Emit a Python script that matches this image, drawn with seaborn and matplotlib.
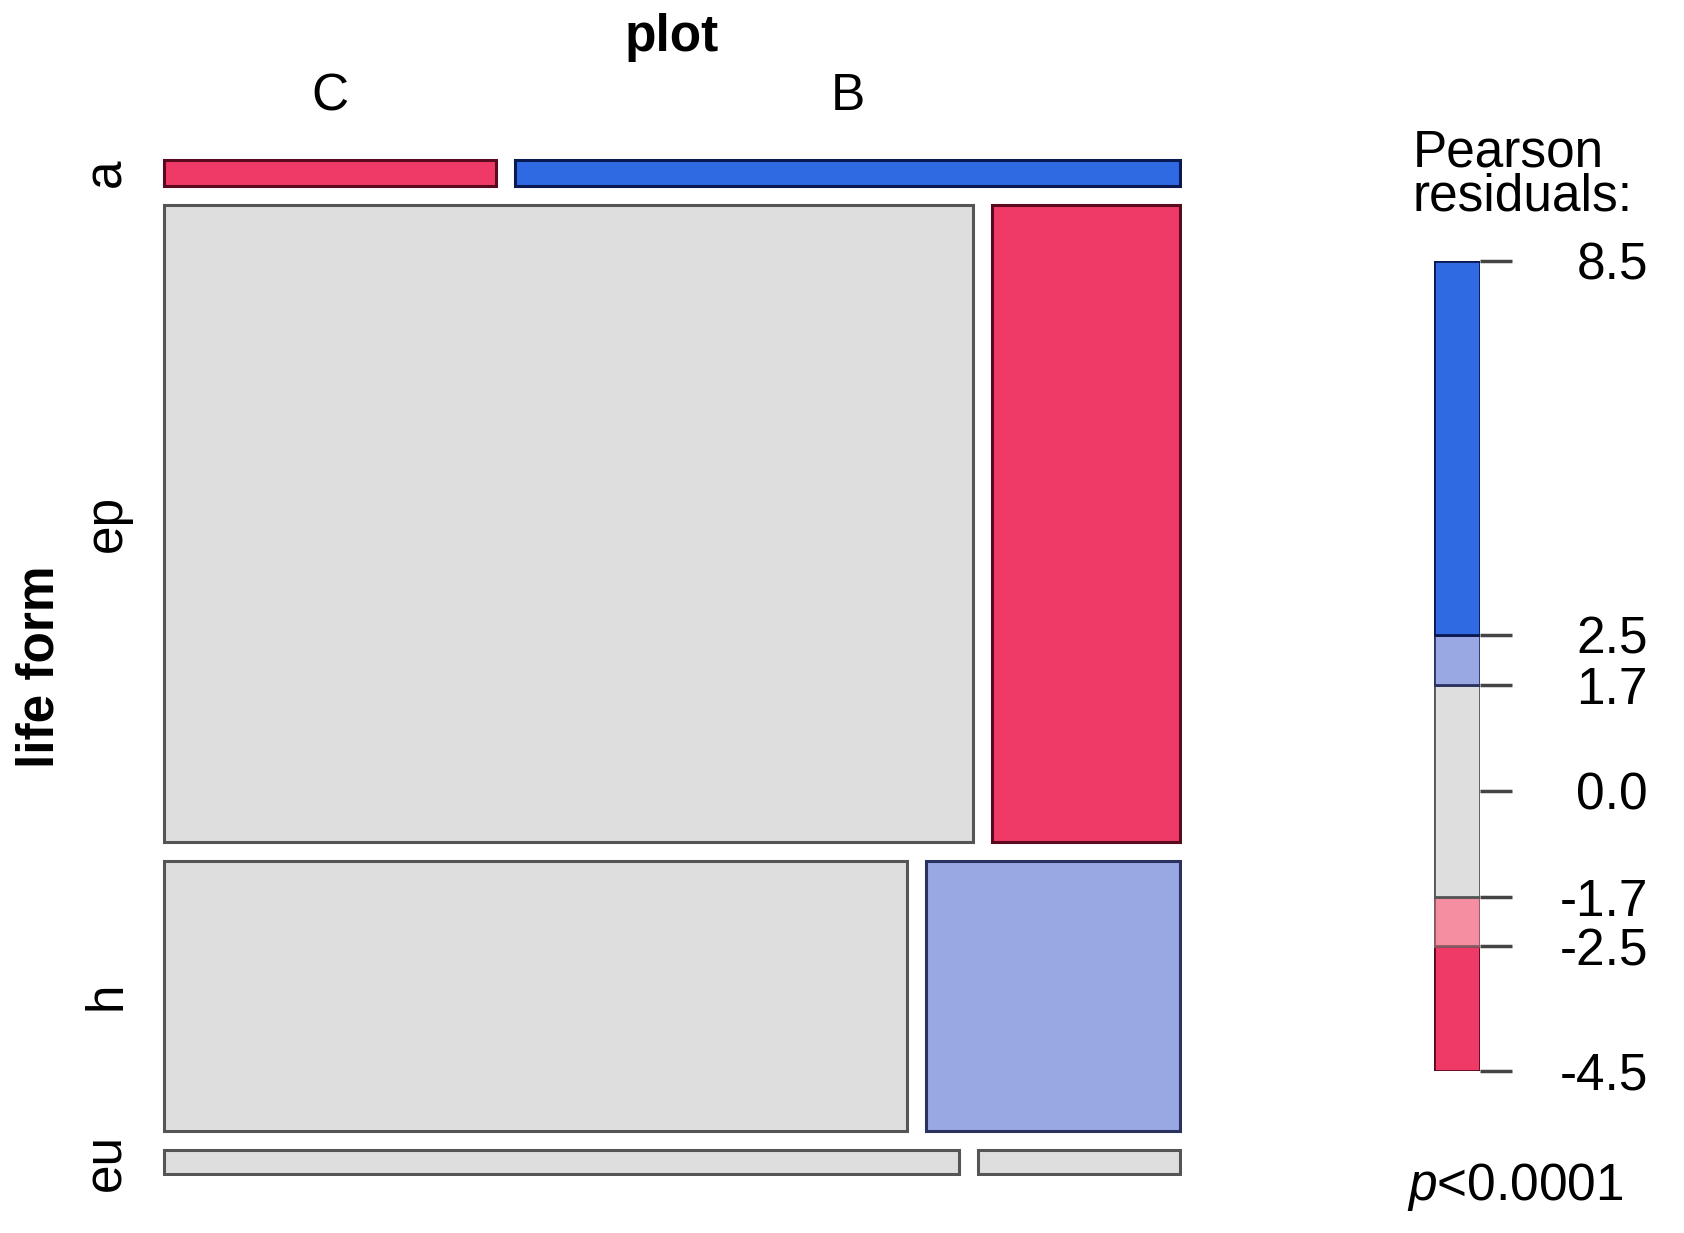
import numpy as np
import matplotlib
matplotlib.use("Agg")
import matplotlib.pyplot as plt
import matplotlib.transforms as mtransforms
import seaborn as sns

# contingency table: life form (rows) x plot (columns)
life_forms = ["a", "ep", "h", "eu"]
plots = ["C", "B"]
counts_C = [27, 1620, 632, 59]
counts_B = [54, 377, 216, 15]

# legend scale for Pearson residuals
breaks = [-4.5, -2.5, -1.7, 1.7, 2.5, 8.5]
tick_vals = [-4.5, -2.5, -1.7, 0.0, 1.7, 2.5, 8.5]
tick_labels = ["-4.5", "-2.5", "-1.7", "0.0", "1.7", "2.5", "8.5"]
fills = ["#EF3A68", "#F48EA0", "#DEDEDE", "#99A8E2", "#2F6AE3"]
edges = ["#5A0A1E", "#8A5A64", "#555555", "#2A3360", "#0A1A50"]
p_text = "p<0.0001"

sns.set_theme(style="white")
plt.rcParams["font.family"] = ["Liberation Sans", "DejaVu Sans"]
plt.rcParams["text.color"] = "black"
plt.rcParams["ytick.color"] = "black"
plt.rcParams["mathtext.fontset"] = "custom"
plt.rcParams["mathtext.it"] = "Liberation Sans:italic"

tab = np.array([counts_C, counts_B], dtype=float).T
N = tab.sum()
expected = np.outer(tab.sum(axis=1), tab.sum(axis=0)) / N
resid = (tab - expected) / np.sqrt(expected)


def bin_of(r):
    for k in range(len(breaks) - 1):
        if r <= breaks[k + 1]:
            return k
    return len(breaks) - 2


W, H = 1684, 1233
FS = 37
fig = plt.figure(figsize=(W / 100, H / 100), dpi=100)
fig.patch.set_facecolor("white")

# mosaic
left_px, right_px, top_px, bot_px = 162, 1182, 158, 1176
gap = 19.3
ax = fig.add_axes([left_px / W, 1 - bot_px / H, (right_px - left_px) / W, (bot_px - top_px) / H])
gx = gap / (right_px - left_px - gap)
gy = gap / (bot_px - top_px - 3 * gap)

row_h = tab.sum(axis=1) / N
row_y = np.concatenate([[0], np.cumsum(row_h[:-1] + gy)])
for i in range(len(life_forms)):
    props = tab[i] / tab[i].sum()
    x = 0.0
    for j in range(len(plots)):
        k = bin_of(resid[i, j])
        ax.bar(x, row_h[i], width=props[j], bottom=row_y[i], align="edge",
               color=fills[k], edgecolor=edges[k], linewidth=2.2)
        x += props[j] + gx
ax.set_xlim(-0.002, 1 + gx + 0.002)
ax.set_ylim(row_y[-1] + row_h[-1] + 0.002, -0.002)
ax.set_axis_off()

# column labels over first row
top_props = tab[0] / tab[0].sum()
trans_x = mtransforms.blended_transform_factory(ax.transData, fig.transFigure)
cx = [top_props[0] / 2, top_props[0] + gx + top_props[1] / 2]
for lab, xx in zip(plots, cx):
    ax.text(xx, 1 - 97 / H, lab, transform=trans_x, ha="center", va="center", fontsize=FS)
fig.text(((left_px + right_px) / 2) / W, 1 - 37 / H, "plot", ha="center", va="center",
         fontsize=FS, fontweight="bold")

# row labels
trans_y = mtransforms.blended_transform_factory(fig.transFigure, ax.transData)
for lab, yy, hh in zip(life_forms, row_y, row_h):
    ax.text(107 / W, yy + hh / 2, lab, transform=trans_y, ha="center", va="center",
            rotation=90, fontsize=FS)
fig.text(40 / W, 1 - 667 / H, "life form", ha="center", va="center", rotation=90,
         fontsize=FS, fontweight="bold")

# legend
lax = fig.add_axes([1434 / W, 1 - 1071 / H, 46 / W, (1071 - 261) / H])
for k in range(len(fills)):
    lax.bar(0, breaks[k + 1] - breaks[k], width=1, bottom=breaks[k], align="edge",
            color=fills[k], edgecolor=edges[k], linewidth=2)
lax.set_xlim(0, 1)
lax.set_ylim(breaks[0], breaks[-1])
for s in lax.spines.values():
    s.set_visible(False)
lax.set_xticks([])
lax.yaxis.tick_right()
lax.set_yticks(tick_vals)
lax.set_yticklabels(tick_labels, ha="right")
lax.tick_params(axis="y", right=True, left=False, length=23, width=2.5, color="#444444",
                direction="out", pad=98, labelsize=FS, labelcolor="black")

fig.text(1413 / W, 1 - 175 / H, "Pearson\nresiduals:", ha="left", va="center",
         fontsize=FS, linespacing=0.85)
fig.text(1407 / W, 1 - 1187 / H, r"$\it{p}$" + p_text[1:], ha="left", va="center", fontsize=FS)

fig.savefig("out.png", dpi=100, facecolor="white")
